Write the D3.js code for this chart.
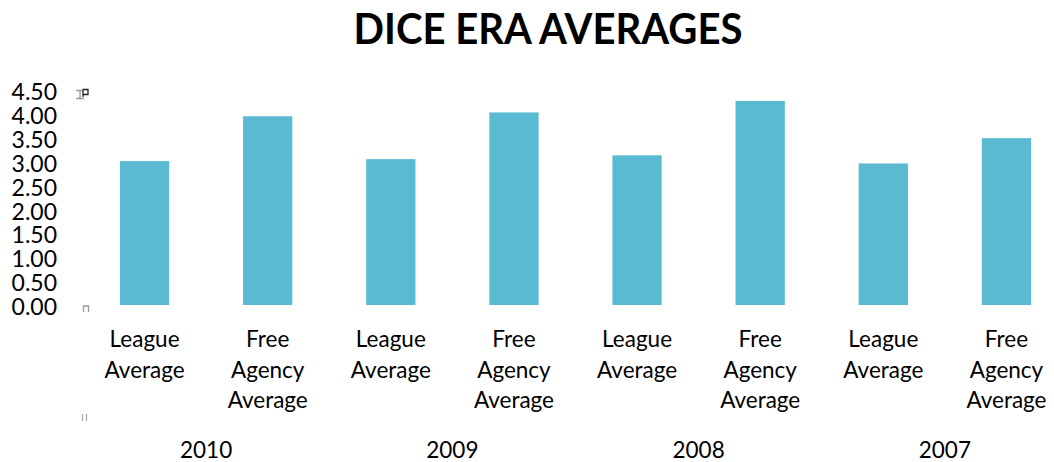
<!DOCTYPE html>
<html>
<head>
<meta charset="utf-8">
<script src="https://cdn.jsdelivr.net/npm/d3@7"></script>
<style>
  html, body { margin: 0; padding: 0; background: #ffffff; }
  svg { display: block; font-family: Lato, "Open Sans", sans-serif; }
</style>
</head>
<body>
<svg id="chart" width="1054" height="462"></svg>
<script>
// ---- data ----
const years = ["2010", "2009", "2008", "2007"];
const seriesLabels = ["League Average", "Free Agency Average"];
const leagueAvg = [3.02, 3.06, 3.14, 2.97];
const freeAgencyAvg = [3.96, 4.04, 4.28, 3.50];
const yTicks = [0, 0.5, 1, 1.5, 2, 2.5, 3, 3.5, 4, 4.5];
const title = "DICE ERA AVERAGES";

// build flat table
const rows = [];
years.forEach((y, i) => {
  rows.push({ key: y + "|L", year: y, label: seriesLabels[0], value: leagueAvg[i] });
  rows.push({ key: y + "|F", year: y, label: seriesLabels[1], value: freeAgencyAvg[i] });
});

const svg = d3.select("#chart");
const W = 1054, H = 462;

const x = d3.scaleBand()
  .domain(rows.map(d => d.key))
  .range([83, 1068])
  .paddingInner(0.6)
  .paddingOuter(0.3);

const y = d3.scaleLinear()
  .domain([0, 4.5])
  .range([305, 90.5]);

// title
svg.append("text")
  .attr("x", 548)
  .attr("y", 44)
  .attr("text-anchor", "middle")
  .attr("font-size", 42)
  .attr("font-weight", 700)
  .attr("fill", "#000")
  .attr("textLength", 389)
  .attr("lengthAdjust", "spacingAndGlyphs")
  .text(title);

// bars
svg.append("g")
  .selectAll("rect")
  .data(rows)
  .join("rect")
  .attr("x", d => x(d.key))
  .attr("width", x.bandwidth())
  .attr("y", d => y(d.value))
  .attr("height", d => y(0) - y(d.value))
  .attr("fill", "#59bad1");

// y axis
const yAxis = svg.append("g")
  .attr("transform", "translate(83,2)")
  .call(d3.axisLeft(y).tickValues(yTicks).tickFormat(d3.format(".2f")).tickSize(0).tickPadding(26));
yAxis.select(".domain").remove();
yAxis.selectAll("text")
  .attr("font-family", "Lato, 'Open Sans', sans-serif")
  .attr("font-size", 23)
  .attr("fill", "#000");

// category labels (multi-line)
const catG = svg.append("g");
const lineH = 30.5;
rows.forEach(d => {
  const cx = x(d.key) + x.bandwidth() / 2;
  const words = d.label === seriesLabels[0] ? ["League", "Average"] : ["Free", "Agency", "Average"];
  const t = catG.append("text")
    .attr("text-anchor", "middle")
    .attr("font-size", 22.5)
    .attr("fill", "#000");
  words.forEach((w, i) => {
    t.append("tspan").attr("x", cx).attr("y", 347 + i * lineH).text(w);
  });
});

// year group labels
svg.append("g")
  .selectAll("text")
  .data(years)
  .join("text")
  .attr("x", yv => (x(yv + "|L") + x(yv + "|F") + x.bandwidth()) / 2)
  .attr("y", 458)
  .attr("text-anchor", "middle")
  .attr("font-size", 22.5)
  .attr("fill", "#000")
  .text(yv => yv);

// small artifact glyphs near the axis
const art = svg.append("g").attr("fill", "none").attr("stroke-width", 1.3);
art.append("path").attr("d", "M76,90.5 H82 M80,90.5 V98.5 M76,98.5 H84").attr("stroke", "#999");
art.append("path").attr("d", "M83,97 V89.5 H88 V94.5 H83").attr("stroke", "#222");
art.append("path").attr("d", "M83.5,312 V306 H88.5 V312").attr("stroke", "#999");
art.append("path").attr("d", "M82.5,414 V421 M86.5,414 V421").attr("stroke", "#aaa");
</script>
</body>
</html>
